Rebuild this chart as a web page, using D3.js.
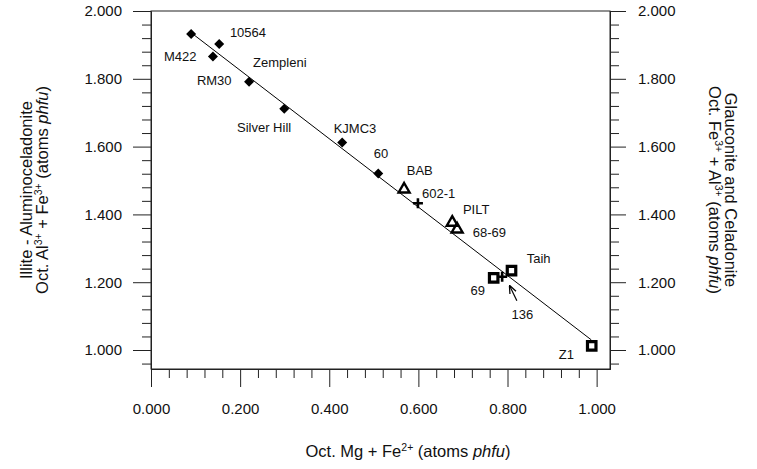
<!DOCTYPE html>
<html>
<head>
<meta charset="utf-8">
<script src="https://cdn.jsdelivr.net/npm/d3@7"></script>
<style>
  body { margin: 0; background: #fff; }
  svg { font-family: "Liberation Sans", Arial, sans-serif; }
  .axis path, .axis line { stroke: #222; }
  .axis text { font-size: 15px; fill: #111; }
  .label { font-size: 13px; fill: #111; }
  .title { font-size: 16.5px; fill: #111; }
</style>
</head>
<body>
<script>
// points
var pointType = ['diamond', 'diamond', 'diamond', 'diamond', 'diamond', 'diamond', 'diamond',
  'triangle', 'triangle', 'triangle', 'plus', 'square', 'plus', 'square', 'square'];
var pointX = [0.090, 0.153, 0.139, 0.220, 0.299, 0.429, 0.510,
  0.568, 0.676, 0.687, 0.599, 0.769, 0.788, 0.809, 0.989];
var pointY = [1.932, 1.903, 1.866, 1.791, 1.712, 1.612, 1.521,
  1.474, 1.376, 1.356, 1.433, 1.213, 1.216, 1.234, 1.012];

// sample labels (text start / baseline in data units)
var labelText = ['10564', 'M422', 'Zempleni', 'RM30', 'Silver Hill', 'KJMC3', '60',
  'BAB', '602-1', 'PILT', '68-69', 'Taih', '69', '136', 'Z1'];
var labelX = [0.177, 0.029, 0.229, 0.103, 0.193, 0.410, 0.500,
  0.574, 0.608, 0.700, 0.722, 0.843, 0.717, 0.809, 0.915];
var labelY = [1.923, 1.853, 1.835, 1.782, 1.643, 1.640, 1.566,
  1.516, 1.448, 1.401, 1.333, 1.257, 1.162, 1.091, 0.973];

// regression line
var lineX = [0.093, 0.988];
var lineY = [1.933, 1.030];

// arrow for 136
var arrowFrom = [0.821, 1.145];
var arrowTo = [0.805, 1.189];

var xMajor = [0, 0.2, 0.4, 0.6, 0.8, 1.0];
var yMajor = [1.0, 1.2, 1.4, 1.6, 1.8, 2.0];

var width = 757, height = 469;

var x = d3.scaleLinear().domain([0, 1.03]).range([151, 610]);
var y = d3.scaleLinear().domain([0.944, 2.0]).range([369, 11]);

var xMinor = d3.range(0, 1.03, 0.04).filter(function (v) { return Math.abs(v * 5 - Math.round(v * 5)) > 1e-6; });
var yMinor = d3.range(0.96, 2.0, 0.04).filter(function (v) { return Math.abs(v * 5 - Math.round(v * 5)) > 1e-6; });

var svg = d3.select('body').append('svg')
  .attr('width', width)
  .attr('height', height);

var fmt = d3.format('.3f');

// minor ticks
svg.append('g').attr('class', 'axis').attr('transform', 'translate(0,369)')
  .call(d3.axisBottom(x).tickValues(xMinor).tickSize(9).tickSizeOuter(0).tickFormat(''));
svg.append('g').attr('class', 'axis').attr('transform', 'translate(151,0)')
  .call(d3.axisLeft(y).tickValues(yMinor).tickSize(9).tickSizeOuter(0).tickFormat(''));
svg.append('g').attr('class', 'axis').attr('transform', 'translate(610,0)')
  .call(d3.axisRight(y).tickValues(yMinor).tickSize(9).tickSizeOuter(0).tickFormat(''));

// major ticks
svg.append('g').attr('class', 'axis').attr('transform', 'translate(0,369)')
  .call(d3.axisBottom(x).tickValues(xMajor).tickSize(18).tickPadding(16).tickSizeOuter(0).tickFormat(fmt));
svg.append('g').attr('class', 'axis').attr('transform', 'translate(151,0)')
  .call(d3.axisLeft(y).tickValues(yMajor).tickSize(18).tickPadding(11).tickSizeOuter(0).tickFormat(fmt));
svg.append('g').attr('class', 'axis').attr('transform', 'translate(610,0)')
  .call(d3.axisRight(y).tickValues(yMajor).tickSize(16).tickPadding(12).tickSizeOuter(0).tickFormat(fmt));

// frame
svg.append('rect')
  .attr('x', x(0)).attr('y', y(2.0))
  .attr('width', x(1.03) - x(0)).attr('height', y(0.944) - y(2.0))
  .attr('fill', 'none').attr('stroke', '#222').attr('stroke-width', 1);

// regression line
svg.append('line')
  .attr('x1', x(lineX[0])).attr('y1', y(lineY[0]))
  .attr('x2', x(lineX[1])).attr('y2', y(lineY[1]))
  .attr('stroke', '#000').attr('stroke-width', 1);

// markers
var points = pointType.map(function (t, i) { return { type: t, x: pointX[i], y: pointY[i] }; });

var g = svg.append('g');
points.forEach(function (p) {
  var cx = x(p.x), cy = y(p.y);
  if (p.type === 'diamond') {
    g.append('path').attr('d', d3.symbol(d3.symbolSquare, 50)())
      .attr('transform', 'translate(' + cx + ',' + cy + ') rotate(45)')
      .attr('fill', '#000');
  } else if (p.type === 'triangle') {
    g.append('path').attr('d', d3.symbol(d3.symbolTriangle, 52)())
      .attr('transform', 'translate(' + cx + ',' + cy + ')')
      .attr('fill', 'none').attr('stroke', '#000').attr('stroke-width', 2.4);
  } else if (p.type === 'square') {
    g.append('path').attr('d', d3.symbol(d3.symbolSquare, 72)())
      .attr('transform', 'translate(' + cx + ',' + cy + ')')
      .attr('fill', '#fff').attr('stroke', '#000').attr('stroke-width', 3.2);
  } else {
    g.append('path').attr('d', 'M-5,0H5M0,-5V5')
      .attr('transform', 'translate(' + cx + ',' + cy + ')')
      .attr('fill', 'none').attr('stroke', '#000').attr('stroke-width', 2.6);
  }
});

// labels
svg.selectAll('.label').data(labelText).enter().append('text')
  .attr('class', 'label')
  .attr('x', function (d, i) { return x(labelX[i]); })
  .attr('y', function (d, i) { return y(labelY[i]); })
  .text(function (d) { return d; });

// arrow
svg.append('defs').append('marker')
  .attr('id', 'arrowhead').attr('viewBox', '0 0 10 10')
  .attr('refX', 9).attr('refY', 5)
  .attr('markerWidth', 7).attr('markerHeight', 7)
  .attr('orient', 'auto')
  .append('path').attr('d', 'M0,1L10,5L0,9').attr('fill', 'none').attr('stroke', '#000').attr('stroke-width', 1.5);
svg.append('line')
  .attr('x1', x(arrowFrom[0])).attr('y1', y(arrowFrom[1]))
  .attr('x2', x(arrowTo[0])).attr('y2', y(arrowTo[1]))
  .attr('stroke', '#000').attr('stroke-width', 1.2)
  .attr('marker-end', 'url(#arrowhead)');

// titles with superscripts / italics
function richText(sel, parts) {
  parts.forEach(function (p) {
    var t = sel.append('tspan').text(p.t);
    if (p.sup) t.attr('font-size', '10.5px').attr('dy', -6);
    if (p.after) t.attr('dy', 6);
    if (p.i) t.attr('font-style', 'italic');
  });
}

var xt = svg.append('text').attr('class', 'title')
  .attr('x', 408).attr('y', 457).attr('text-anchor', 'middle');
richText(xt, [{ t: 'Oct. Mg + Fe' }, { t: '2+', sup: true }, { t: ' (atoms ', after: true }, { t: 'phfu', i: true }, { t: ')' }]);

var lt = svg.append('g').attr('transform', 'translate(0,190) rotate(-90)');
lt.append('text').attr('class', 'title').attr('x', 0).attr('y', 32).attr('text-anchor', 'middle')
  .text('Illite - Aluminoceladonite');
var lt2 = lt.append('text').attr('class', 'title').attr('x', 0).attr('y', 48).attr('text-anchor', 'middle');
richText(lt2, [{ t: 'Oct.  Al' }, { t: '3+', sup: true }, { t: ' + Fe', after: true }, { t: '3+', sup: true }, { t: ' (atoms ', after: true }, { t: 'phfu', i: true }, { t: ')' }]);

var rt = svg.append('g').attr('transform', 'translate(757,190) rotate(90)');
rt.append('text').attr('class', 'title').attr('x', 0).attr('y', 32).attr('text-anchor', 'middle')
  .text('Glauconite and Celadonite');
var rt2 = rt.append('text').attr('class', 'title').attr('x', 0).attr('y', 48).attr('text-anchor', 'middle');
richText(rt2, [{ t: 'Oct. Fe' }, { t: '3+', sup: true }, { t: ' + Al', after: true }, { t: '3+', sup: true }, { t: ' (atoms ', after: true }, { t: 'phfu', i: true }, { t: ')' }]);
</script>
</body>
</html>
